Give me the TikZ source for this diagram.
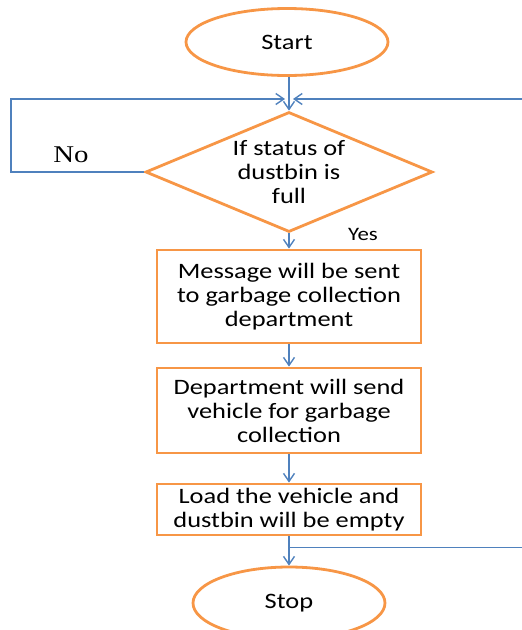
\documentclass[tikz,border=0pt]{standalone}
\usepackage{fontspec}
\setmainfont{Carlito}[FakeStretch=1.2]
\newfontfamily\nofont{Liberation Serif}[FakeStretch=1.2]
\usepackage{tikz}
\usetikzlibrary{shapes.geometric, arrows.meta, calc}
\definecolor{boxorange}{RGB}{247,150,70}
\definecolor{lineblue}{RGB}{79,129,189}
\tikzset{
  term/.style={ellipse, draw=boxorange, line width=2.8pt, inner sep=0pt},
  proc/.style={rectangle, draw=boxorange, line width=2.8pt, minimum width=264pt, inner sep=0pt, align=center},
  decide/.style={diamond, draw=boxorange, line width=2.8pt, aspect=2.4, minimum width=287pt, minimum height=120pt, inner sep=0pt, align=center},
  flow/.style={draw=lineblue, line width=1.4pt, -{Straight Barb[length=8pt,width=11pt]}}
}

\begin{document}
\begin{tikzpicture}[x=1pt,y=-1pt,font=\fontsize{22}{24}\selectfont]
\useasboundingbox (0,0) rectangle (522,630);
\node[term, minimum width=202pt, minimum height=67pt] (start) at (287,42) {Start};
\node[decide] (dia) at (289,172) {If status of\\dustbin is\\full};
\node[proc, minimum height=93pt] (msg) at (289,296.5) {Message will be sent\\to garbage collection\\department};
\node[proc, minimum height=85pt] (dept) at (289,410.5) {Department will send\\vehicle for garbage\\collection};
\node[proc, minimum height=51pt] (load) at (289,509.5) {Load the vehicle and\\dustbin will be empty};
\node[term, minimum width=192pt, minimum height=72pt] (stop) at (289,603) {Stop};
\node (no) at (71,154.5) {\nofont\fontsize{24}{26}\selectfont No};
\node (yes) at (363,234.5) {\fontsize{19}{22}\selectfont Yes};
\coordinate (top) at (289,99);
\coordinate (edge) at (526,0);
\coordinate (split) at ($(load.south)+(0,11)$);

\draw[flow] (start.south -| dia.north) -- (dia);
\draw[flow] (dia) -- (msg);
\draw[flow] (msg) -- (dept);
\draw[flow] (dept) -- (load);
\draw[flow] (load) -- (stop);
% loop back when the bin is not full
\draw[flow] (dia.west) -- ++(-133,0) |- ([xshift=-4pt]top);
% loop back after emptying
\draw[flow] (split) -- (split -| edge) |- ([xshift=4pt]top);
\end{tikzpicture}
\end{document}
